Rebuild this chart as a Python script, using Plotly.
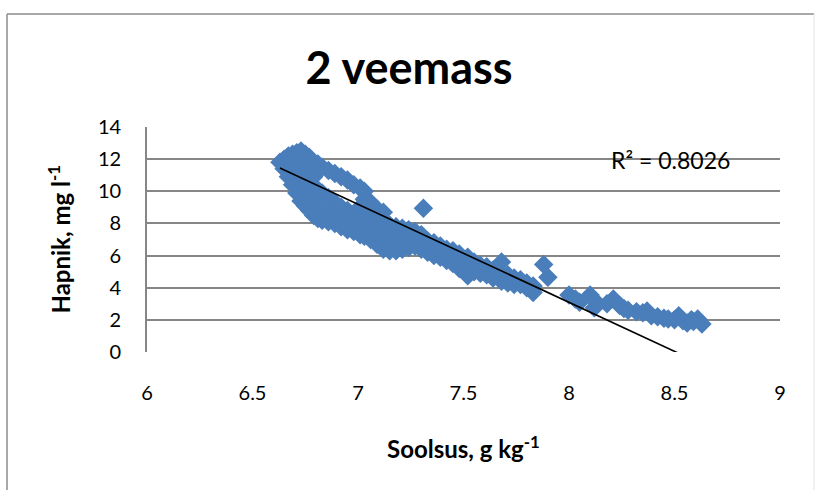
import plotly.graph_objects as go

# Salinity (g/kg) and dissolved oxygen (mg/l) observations, water mass 2
salinity = [
    6.63,
    6.65, 6.65,
    6.67, 6.67, 6.67,
    6.69, 6.69, 6.69, 6.69,
    6.71, 6.71, 6.71, 6.71, 6.71,
    6.73, 6.73, 6.73, 6.73, 6.73, 6.73,
    6.75, 6.75, 6.75, 6.75, 6.75, 6.75,
    6.77, 6.77, 6.77, 6.77, 6.77, 6.77,
    6.79, 6.79, 6.79, 6.79, 6.79, 6.79,
    6.81, 6.81, 6.81, 6.81, 6.81,
    6.83, 6.83, 6.83, 6.83,
    6.86, 6.86, 6.86, 6.86,
    6.89, 6.89, 6.89, 6.89,
    6.92, 6.92, 6.92, 6.92,
    6.95, 6.95, 6.95, 6.95,
    6.98, 6.98, 6.98, 6.98,
    7.01, 7.01, 7.01, 7.01, 7.01,
    7.03, 7.03, 7.03, 7.03, 7.03, 7.03,
    7.06, 7.06, 7.06, 7.06, 7.06,
    7.09, 7.09, 7.09, 7.09, 7.09,
    7.12, 7.12, 7.12, 7.12, 7.12,
    7.15, 7.15, 7.15, 7.15,
    7.18, 7.18, 7.18, 7.18,
    7.21, 7.21, 7.21, 7.21,
    7.24, 7.24, 7.24,
    7.27, 7.27, 7.27,
    7.30, 7.30, 7.30, 7.31,
    7.33, 7.33, 7.33,
    7.36, 7.36, 7.36,
    7.39, 7.39, 7.39,
    7.42, 7.42, 7.42,
    7.45, 7.45, 7.45,
    7.48, 7.48, 7.48,
    7.52, 7.52, 7.52,
    7.55, 7.55,
    7.58, 7.58,
    7.61, 7.61,
    7.64, 7.64,
    7.68, 7.68, 7.68,
    7.71, 7.71,
    7.74, 7.74,
    7.77, 7.77,
    7.80, 7.80,
    7.83, 7.83,
    7.88, 7.90,
    8.00, 8.03, 8.05, 8.10, 8.12, 8.13, 8.18, 8.21, 8.24, 8.26,
    8.28, 8.32, 8.35, 8.37, 8.39, 8.42, 8.45, 8.47, 8.50, 8.52,
    8.54, 8.56, 8.58, 8.59, 8.61, 8.63,
]
oxygen = [
    11.8,
    11.4, 12.0,
    10.9, 11.5, 12.2,
    10.4, 11.0, 11.6, 12.3,
    9.9, 10.5, 11.1, 11.7, 12.4,
    9.4, 10.0, 10.6, 11.2, 11.8, 12.5,
    9.1, 9.7, 10.3, 10.9, 11.5, 12.3,
    8.8, 9.4, 10.0, 10.6, 11.2, 12.1,
    8.5, 9.1, 9.7, 10.3, 10.9, 11.8,
    8.3, 8.9, 9.5, 10.1, 11.7,
    8.2, 8.8, 9.9, 11.5,
    8.1, 8.8, 9.6, 11.3,
    8.0, 8.6, 9.3, 11.1,
    7.8, 8.4, 9.0, 10.9,
    7.6, 8.1, 8.8, 10.7,
    7.5, 8.0, 8.6, 10.4,
    7.3, 7.8, 8.4, 9.0, 10.2,
    7.2, 7.7, 8.3, 8.9, 9.5, 10.0,
    7.0, 7.5, 8.1, 8.6, 9.3,
    6.7, 7.2, 7.8, 8.4, 8.9,
    6.4, 6.9, 7.5, 8.1, 8.7,
    6.3, 6.8, 7.3, 7.9,
    6.3, 6.8, 7.3, 7.8,
    6.4, 6.9, 7.4, 7.7,
    6.5, 7.0, 7.6,
    6.6, 7.1, 7.5,
    6.4, 6.9, 7.3, 8.94,
    6.2, 6.7, 6.9,
    6.0, 6.4, 6.8,
    5.9, 6.3, 6.6,
    5.7, 6.1, 6.4,
    5.5, 5.9, 6.3,
    5.2, 5.7, 6.1,
    4.75, 5.3, 5.9,
    5.0, 5.6,
    4.9, 5.4,
    4.8, 5.3,
    4.6, 5.1,
    4.4, 4.9, 5.6,
    4.3, 4.8,
    4.2, 4.6,
    4.2, 4.5,
    4.0, 4.3,
    3.7, 4.1,
    5.45, 4.65,
    3.55, 3.3, 3.1, 3.55, 2.75, 3.1, 3.0, 3.3, 2.9, 2.7,
    2.6, 2.5, 2.45, 2.55, 2.25, 2.2, 2.1, 2.06, 2.0, 2.25,
    1.95, 1.8, 2.0, 1.9, 2.05, 1.75,
]

# Linear trend fitted in the spreadsheet
trend_slope = -6.10
trend_intercept = 51.89
r_squared = 0.8026

x_ticks = [6, 6.5, 7, 7.5, 8, 8.5, 9]
y_ticks = [0, 2, 4, 6, 8, 10, 12, 14]

FONT = "Lato"
GRID = "#868686"

trend_x = [min(salinity), max(salinity)]
trend_y = [trend_slope * v + trend_intercept for v in trend_x]

fig = go.Figure()
fig.add_trace(go.Scatter(
    x=salinity, y=oxygen, mode="markers",
    marker=dict(symbol="diamond", size=15, color="#4A7EBB", line=dict(width=0)),
    showlegend=False, hoverinfo="x+y",
))
fig.add_trace(go.Scatter(
    x=trend_x, y=trend_y, mode="lines",
    line=dict(color="black", width=1.6),
    showlegend=False, hoverinfo="skip",
))

# plot-area geometry in pixels
W, H = 815, 490
L, R, T, B = 147, 780, 127, 352
pw, ph = R - L, B - T


def px(xp):
    return (xp - L) / pw


def py(yp):
    return (B - yp) / ph


fig.update_layout(
    width=W, height=H,
    margin=dict(l=L, r=W - R, t=T, b=H - B, pad=0),
    paper_bgcolor="white", plot_bgcolor="white",
    font=dict(family=FONT, size=20, color="black"),
    title=dict(
        text="2 veemass", x=409 / W, xref="container", xanchor="center",
        y=1 - 68 / H, yref="container", yanchor="middle",
        font=dict(family=FONT, size=45, weight="bold", color="black"),
    ),
    xaxis=dict(
        range=[6, 9], tickvals=x_ticks, ticktext=[f"{v:g}" for v in x_ticks],
        showgrid=False, zeroline=False, showline=False,
        ticks="", ticklabelstandoff=27,
        tickfont=dict(family=FONT, size=20, color="black"),
    ),
    yaxis=dict(
        range=[0, 14], tickvals=y_ticks,
        showgrid=True, gridcolor=GRID, gridwidth=1.7,
        zeroline=False, showline=True, linecolor=GRID, linewidth=1.7,
        ticks="", ticklabelstandoff=20,
        tickfont=dict(family=FONT, size=20, color="black"),
    ),
    annotations=[
        dict(text=f"R² = {r_squared}", x=8.19, y=11.95, xref="x", yref="y",
             xanchor="left", yanchor="middle", showarrow=False,
             font=dict(family=FONT, size=23, color="black")),
        dict(text="<b>Soolsus, g kg<sup>-1</sup></b>", x=0.5, y=py(447),
             xref="paper", yref="paper", xanchor="center", yanchor="middle",
             showarrow=False, font=dict(family=FONT, size=24, color="black")),
        dict(text="<b>Hapnik, mg l<sup>-1</sup></b>", x=px(58), y=0.5,
             xref="paper", yref="paper", xanchor="center", yanchor="middle",
             textangle=-90, showarrow=False,
             font=dict(family=FONT, size=24, color="black")),
    ],
    shapes=[
        # chart frame
        dict(type="line", xref="paper", yref="paper", x0=px(7), x1=px(7),
             y0=py(14), y1=py(500), line=dict(color="#8c8c8c", width=1.5)),
        dict(type="line", xref="paper", yref="paper", x0=px(7), x1=px(814),
             y0=py(14), y1=py(14), line=dict(color="#8c8c8c", width=1.5)),
        dict(type="line", xref="paper", yref="paper", x0=px(814), x1=px(814),
             y0=py(14), y1=py(500), line=dict(color="#e4e4e4", width=1)),
    ],
)

fig.write_html("out.html")
